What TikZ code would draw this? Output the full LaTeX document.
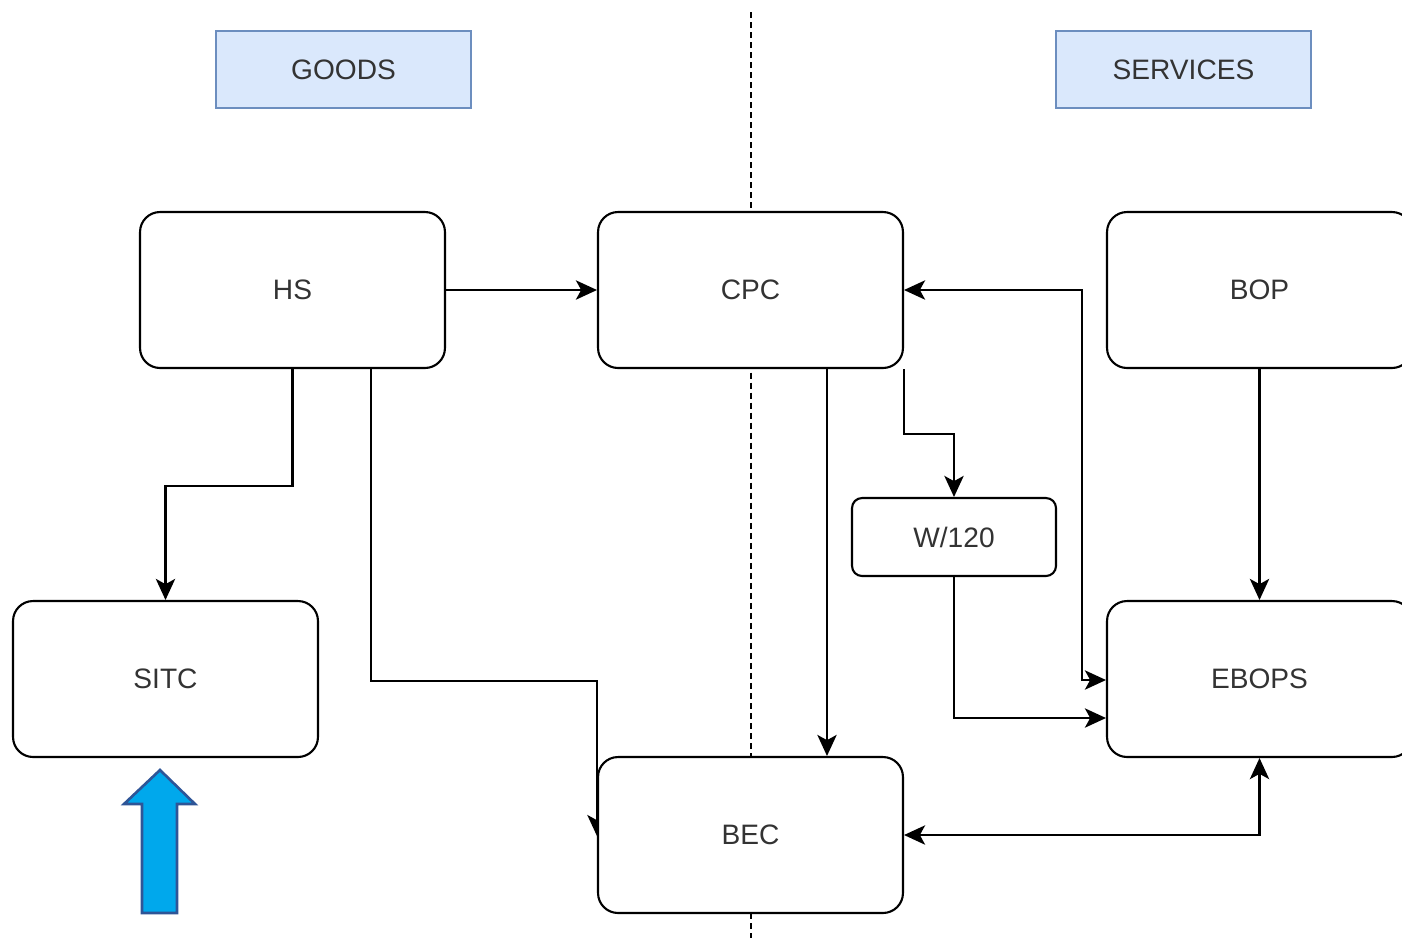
\documentclass[tikz,border=0pt]{standalone}
\usepackage{fontspec}
\setmainfont{Liberation Sans}
\usetikzlibrary{calc}
\usetikzlibrary{arrows.meta}
\definecolor{textgray}{HTML}{333333}
\definecolor{headfill}{HTML}{DAE8FC}
\definecolor{headline}{HTML}{6C8EBF}
\definecolor{arrowfill}{HTML}{00A8EC}
\definecolor{arrowline}{HTML}{2E5597}

\begin{document}
\begin{tikzpicture}[x=0.02cm,y=-0.02cm,
        >={Stealth[length=12pt,width=11pt,inset=3pt]},
        line width=1.2pt,
        class/.style={draw, fill=white, rounded corners=0.4cm, minimum width=6.1cm,
            minimum height=3.12cm, text=textgray, font=\fontsize{16}{19}\selectfont},
        small class/.style={class, rounded corners=0.2cm, minimum width=4.08cm,
            minimum height=1.56cm},
        heading/.style={draw=headline, fill=headfill, minimum width=5.1cm,
            minimum height=1.54cm, text=textgray, font=\fontsize{16}{19}\selectfont}]
    \useasboundingbox (0,0) rectangle (1402,938);
    \draw[line width=0.9pt, dash pattern=on 3.4pt off 2.3pt] (751,12) -- (751,938);

    \node[heading] (goods) at (343.5,69.5) {GOODS};
    \node[heading] (services) at (1183.5,69.5) {SERVICES};

    \node[class] (HS) at (292.5,290) {HS};
    \node[class] (CPC) at (750.5,290) {CPC};
    \node[class] (BOP) at (1259.5,290) {BOP};
    \node[small class] (W120) at (954,537) {W/120};
    \node[class] (SITC) at (165.5,679) {SITC};
    \node[class] (EBOPS) at (1259.5,679) {EBOPS};

    \draw[->] ($(HS.south east)+(-75,0)$) -- ++(0,312) -| ($(CPC.south west)+(0,467)$);
    \node[class] (BEC) at (750.5,835) {BEC};

    \draw[->] (HS.east) -- (CPC.west);
    \draw[->] (HS.south) -- ++(0,117) -| (SITC.north);
    \draw[->] ($(CPC.south)+(76.5,0)$) coordinate (c1) -- (c1 |- BEC.north);
    \draw[->] (CPC.south east) -- ++(0,65) -| (W120.north);
    \draw[->] (W120.south) |- ($(EBOPS.west)+(0,39)$);
    \draw[<->] (CPC.east) -- ++(178,0) |- ($(EBOPS.west)+(0,1)$);
    \draw[->] (BOP.south) -- (EBOPS.north);
    \draw[<->] (BEC.east) -| (EBOPS.south);

    \draw[line width=1.5pt, draw=arrowline, fill=arrowfill] (160,770) -- (195,804)
        -- (177,804) -- (177,913) -- (142,913) -- (142,804) -- (124,804) -- cycle;
\end{tikzpicture}
\end{document}
